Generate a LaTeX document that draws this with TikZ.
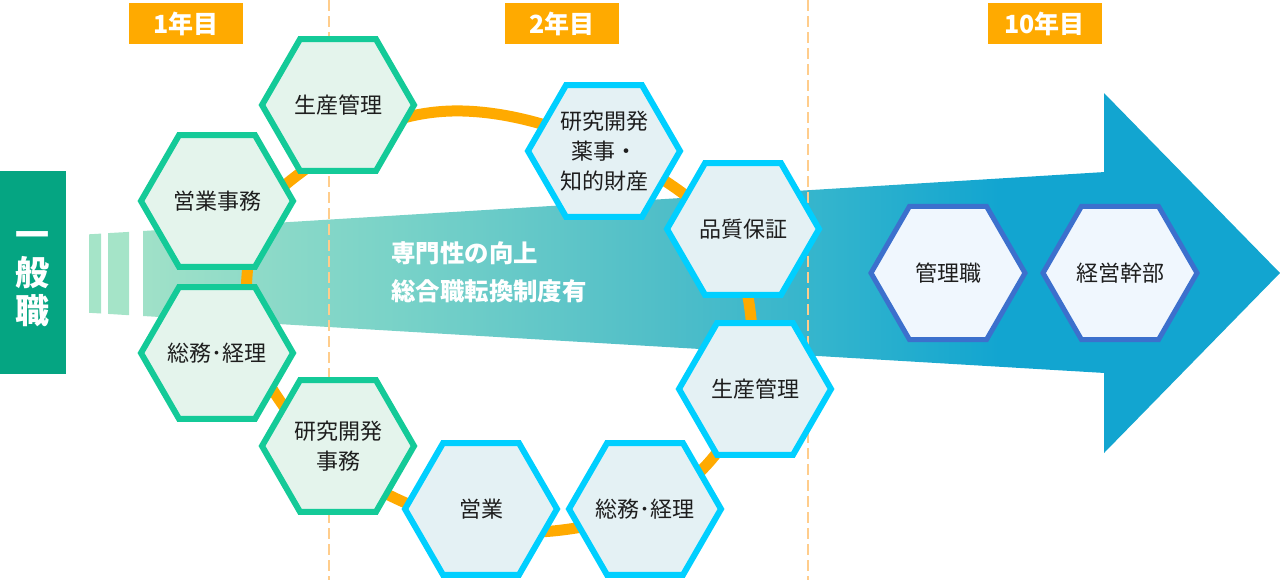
\documentclass[tikz,border=0pt]{standalone}
\usepackage{fontspec}
\setmainfont{Noto Sans CJK JP}
\usetikzlibrary{shapes.geometric}
\definecolor{staff}{RGB}{5,165,130}
\definecolor{bar}{RGB}{165,228,200}
\definecolor{mint}{RGB}{160,225,200}
\definecolor{tealA}{RGB}{120,210,200}
\definecolor{tealB}{RGB}{80,190,200}
\definecolor{tealC}{RGB}{50,180,205}
\definecolor{flow}{RGB}{18,165,208}
\definecolor{greenline}{RGB}{20,202,152}
\definecolor{greenfill}{RGB}{228,244,236}
\definecolor{blueline}{RGB}{0,207,255}
\definecolor{bluefill}{RGB}{228,241,244}
\definecolor{navyline}{RGB}{60,112,205}
\definecolor{navyfill}{RGB}{240,247,254}
\definecolor{tagorange}{RGB}{255,170,0}
\definecolor{divorange}{RGB}{255,205,140}
\definecolor{ink}{RGB}{30,30,30}
\pgfdeclarehorizontalshading{growth}{100bp}{color(0bp)=(mint); color(25bp)=(mint);
  color(38.4bp)=(tealA); color(51.9bp)=(tealB); color(60.7bp)=(tealC);
  color(69.5bp)=(flow); color(100bp)=(flow)}

\begin{document}
\begin{tikzpicture}[
  x=0.5pt, y=-0.5pt,
  hexg/.style={regular polygon, regular polygon sides=6, minimum size=76pt,
               inner sep=0pt, draw=greenline, fill=greenfill, line width=3pt},
  hexb/.style={hexg, draw=blueline, fill=bluefill},
  hexk/.style={hexg, draw=navyline, fill=navyfill, line width=2.5pt, minimum size=77pt},
  hextext/.style={inner sep=0pt, align=center, text=ink,
                  font=\fontsize{11pt}{15pt}\selectfont},
  yeartag/.style={fill=tagorange, text=white, minimum width=57pt, minimum height=20.5pt,
                  inner sep=0pt, font=\fontsize{12.5pt}{14pt}\selectfont\bfseries},
  yeardiv/.style={draw=divorange, line width=1.25pt, dash pattern=on 5.5pt off 2.5pt},
  ring/.style={draw=tagorange, line width=5.5pt}
]
\useasboundingbox (0,0) rectangle (1280,580);

\fill[bar] (89,234.3) -- (101,233.6) -- (101,313.5) -- (89,312.8) -- cycle;
\fill[bar] (108,233.1) -- (129,231.9) -- (129,315.2) -- (108,313.9) -- cycle;
\shade[shading=growth] (143,231) -- (1105,172) -- (1105,373) -- (143,316) -- cycle;
\fill[flow] (1104,93) -- (1280,273) -- (1104,453) -- cycle;

\draw[yeardiv] (329,0) -- (329,580);
\draw[yeardiv] (808,0) -- (808,580);

\draw[ring] plot[smooth cycle, tension=0.7] coordinates {
  (463,111) (674,187) (750,310) (711,460) (562,530)
  (397,499) (278,398) (247,276) (295,177)};

\node[yeartag] (y1)  at (186,23.5)    {1年目};
\node[yeartag] (y2)  at (562,23.5)    {2年目};
\node[yeartag] (y10) at (1044.5,23.5) {10年目};

\node[fill=staff, minimum width=33pt, minimum height=101.5pt] (ippan) at (33,272.5) {};
\node[text=white, inner sep=0pt, align=center, font=\fontsize{17pt}{19pt}\selectfont\bfseries]
  at (33,279) {一\\般\\職};

\node[anchor=west, inner sep=0pt, align=left, text=white,
      font=\fontsize{12.2pt}{19pt}\selectfont\bfseries]
  (senmon) at (391,272) {専門性の向上\\総合職転換制度有};

\node[hexg, label={[hextext]center:生産管理}]   (gSeisan)    at (338,105) {};
\node[hexg, label={[hextext]center:営業事務}]   (gEigyoJimu) at (217,201) {};
\node[hexg, label={[hextext]center:総務･経理}] (gSoumu)     at (217,353) {};
\node[hexg, label={[hextext]center:{研究開発\\事務}}] (gKenkyu) at (338,446) {};

\node[hexb, label={[hextext]center:{研究開発\\薬事・\\知的財産}}] (bKenkyu) at (604,151) {};
\node[hexb, label={[hextext]center:品質保証}]   (bHinshitsu) at (743,229) {};
\node[hexb, label={[hextext]center:生産管理}]   (bSeisan)    at (755,389) {};
\node[hexb, label={[hextext]center:総務･経理}] (bSoumu)     at (645,509) {};
\node[hexb, label={[hextext]center:営業}]       (bEigyo)     at (481,509) {};

\node[hexk, label={[hextext]center:管理職}]   (kanri) at (948,273)  {};
\node[hexk, label={[hextext]center:経営幹部}] (keiei) at (1120,273) {};

\end{tikzpicture}
\end{document}
